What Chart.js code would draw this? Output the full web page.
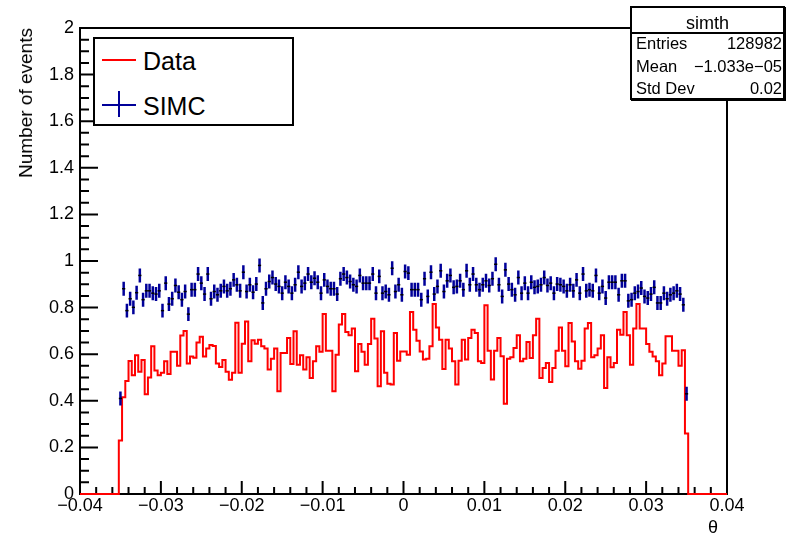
<!DOCTYPE html>
<html lang="en">
<head>
<meta charset="UTF-8">
<title>simth</title>
<script src="https://cdn.jsdelivr.net/npm/chart.js"></script>
<style>
    body { margin: 0; background: #fff; font-family: 'Liberation Sans', Arial, sans-serif; color: #000; }
    #wrap { position: relative; width: 795px; height: 540px; overflow: hidden; }
    #chart { position: absolute; left: 0; top: 0; }
    .box { position: absolute; background: #fff; border: 2px solid #000; box-sizing: border-box; }
    #legend { left: 93px; top: 37px; width: 201px; height: 89px; }
    #stats { left: 630px; top: 6px; width: 155px; height: 94px; box-shadow: 1px 1px 0 #000; }
    .abs { position: absolute; }
    .txt { position: absolute; white-space: nowrap; }
    .lg { font-size: 25px; line-height: 30px; left: 48px; }
    .st { font-size: 16.5px; line-height: 22px; }
    #ytitle { position: absolute; left: 15px; top: 28px; font-size: 19px; line-height: 21px;
              writing-mode: vertical-rl; transform: rotate(180deg); white-space: nowrap; }
    #xtitle { position: absolute; left: 680px; width: 38px; top: 517px; font-size: 18px; line-height: 20px; text-align: right; }
</style>
</head>
<body>
<div id="wrap">
    <canvas id="chart" width="795" height="540"></canvas>
    <div id="ytitle">Number of events</div>
    <div id="xtitle">θ</div>
    <div id="legend" class="box">
        <div class="abs" style="left:7px; top:20px; width:34px; height:2px; background:#ff0000;"></div>
        <div class="txt lg" style="top:7px;">Data</div>
        <div class="abs" style="left:7px; top:65px; width:34px; height:2px; background:#000099;"></div>
        <div class="abs" style="left:23px; top:52px; width:2px; height:26px; background:#000099;"></div>
        <div class="txt lg" style="top:52px;">SIMC</div>
    </div>
    <div id="stats" class="box">
        <div class="txt" style="left:0; width:151px; top:4px; text-align:center; font-size:18px; line-height:22px;">simth</div>
        <div class="abs" style="left:0; top:24px; width:151px; height:2px; background:#000;"></div>
        <div class="txt st" style="left:4px; top:24px;">Entries</div>
        <div class="txt st" style="right:1px; top:24px;">128982</div>
        <div class="txt st" style="left:4px; top:47px;">Mean</div>
        <div class="txt st" style="right:1px; top:47px;">−1.033e−05</div>
        <div class="txt st" style="left:4px; top:69px;">Std Dev</div>
        <div class="txt st" style="right:1px; top:69px;">0.02</div>
    </div>
</div>

<script>
    // histogram binning (200 bins over -0.04..0.04, filled range only)
    const binStart = -0.0352;
    const binWidth = 0.0004;

    // normalised counts per bin
    const dataValues = [
        0.23, 0.415, 0.485, 0.571, 0.51, 0.595, 0.525, 0.575, 0.428, 0.50,
        0.634, 0.53, 0.51, 0.52, 0.57, 0.515, 0.61, 0.61, 0.55, 0.68,
        0.70, 0.56, 0.59, 0.585, 0.65, 0.675, 0.59, 0.625, 0.64, 0.635,
        0.56, 0.545, 0.575, 0.525, 0.49, 0.52, 0.735, 0.52, 0.645, 0.74,
        0.57, 0.66, 0.645,
        0.662, 0.634, 0.624, 0.534, 0.581, 0.624, 0.441, 0.605, 0.605, 0.669,
        0.558, 0.698, 0.555, 0.595, 0.534, 0.587, 0.498, 0.57, 0.634, 0.61,
        0.772, 0.615, 0.615, 0.441, 0.598, 0.727, 0.772, 0.695, 0.681, 0.71,
        0.527, 0.644, 0.61, 0.555, 0.644, 0.752, 0.667, 0.462, 0.698, 0.52,
        0.473, 0.47, 0.691, 0.572, 0.612,
        0.612, 0.598, 0.781, 0.705, 0.658, 0.612, 0.577, 0.581, 0.634, 0.815,
        0.715, 0.662, 0.537, 0.662, 0.624, 0.57, 0.47, 0.572, 0.662, 0.577,
        0.669, 0.705, 0.691, 0.57, 0.562, 0.81, 0.615, 0.491, 0.615, 0.669,
        0.591, 0.387, 0.581, 0.587, 0.627, 0.681, 0.57, 0.581, 0.652, 0.584,
        0.681, 0.752, 0.498, 0.541, 0.562,
        0.481, 0.541, 0.615, 0.715, 0.615, 0.548, 0.734, 0.655, 0.57, 0.538,
        0.572, 0.71, 0.734, 0.587, 0.595, 0.624, 0.681, 0.455, 0.587, 0.544,
        0.562, 0.705, 0.684, 0.781, 0.681, 0.555, 0.71,
        0.815, 0.71, 0.71, 0.644, 0.61, 0.59, 0.57, 0.51, 0.56, 0.677,
        0.677, 0.615, 0.615, 0.55, 0.617, 0.26
    ];

    const simcValues = [
        0.41,
        0.881, 0.787, 0.838, 0.801, 0.864, 0.938, 0.834, 0.872, 0.872, 0.862,
        0.858, 0.872, 0.787, 0.905, 0.815, 0.838, 0.895, 0.866, 0.834, 0.869,
        0.772, 0.877, 0.877, 0.944, 0.905, 0.858, 0.944, 0.838, 0.869, 0.855,
        0.872, 0.891, 0.872, 0.881, 0.919, 0.898, 0.872, 0.952, 0.869, 0.898,
        0.866, 0.901, 0.981,
        0.82, 0.881, 0.912, 0.929, 0.901, 0.891, 0.862, 0.909, 0.891, 0.862,
        0.898, 0.952, 0.891, 0.905, 0.944, 0.909, 0.926, 0.909, 0.862, 0.919,
        0.891, 0.881, 0.881, 0.858, 0.924, 0.944, 0.929, 0.912, 0.898, 0.891,
        0.938, 0.905, 0.905, 0.905, 0.944, 0.862, 0.934, 0.862, 0.869, 0.855,
        0.969, 0.869, 0.898, 0.855, 0.955,
        0.948, 0.877, 0.877, 0.877, 0.834, 0.924, 0.848, 0.952, 0.858, 0.891,
        0.958, 0.869, 0.915, 0.938, 0.887, 0.891, 0.915, 0.877, 0.958, 0.898,
        0.944, 0.898, 0.877, 0.898, 0.915, 0.895, 0.924, 0.986, 0.898, 0.848,
        0.962, 0.901, 0.877, 0.855, 0.929, 0.862, 0.905, 0.862, 0.909, 0.887,
        0.891, 0.898, 0.929, 0.895,
        0.905, 0.862, 0.901, 0.898, 0.891, 0.872, 0.898, 0.872, 0.919, 0.862,
        0.944, 0.872, 0.877, 0.872, 0.938, 0.862, 0.891, 0.841, 0.909, 0.909,
        0.909, 0.855, 0.915, 0.915, 0.829, 0.834, 0.862, 0.869, 0.884, 0.848,
        0.841, 0.858, 0.887, 0.82, 0.82, 0.862, 0.838, 0.855, 0.862, 0.872,
        0.858, 0.812,
        0.43
    ];
    const simcErr = 0.03;

    // axis ranges and tick spacing
    const xMin = -0.04, xMax = 0.04, xMajor = 0.01, xMinor = 0.002;
    const yMin = 0, yMax = 2, yMajor = 0.2, yMinor = 0.05;

    const dataColor = '#ff0000';
    const simcColor = '#000099';
    const font = { family: "'Liberation Sans', Arial, sans-serif", size: 18 };

    // step outline: left edge of every bin, closed down to zero on both sides
    const dataSteps = [{ x: xMin, y: 0 }];
    dataValues.forEach((v, i) => dataSteps.push({ x: binStart + i * binWidth, y: v }));
    dataSteps.push({ x: binStart + dataValues.length * binWidth, y: 0 });
    dataSteps.push({ x: xMax, y: 0 });

    const simcPoints = simcValues.map((v, i) => ({ x: binStart + (i + 0.5) * binWidth, y: v }));

    const rootFrame = {
        id: 'rootFrame',
        beforeDatasetsDraw(chart) {
            const { ctx, chartArea: a, scales: { x, y } } = chart;
            ctx.save();
            ctx.strokeStyle = '#000';
            ctx.lineWidth = 2;
            ctx.strokeRect(a.left, a.top, a.right - a.left, a.bottom - a.top);
            ctx.beginPath();
            const nx = Math.round((xMax - xMin) / xMinor);
            const perX = Math.round(xMajor / xMinor);
            for (let i = 1; i < nx; i++) {
                const px = x.getPixelForValue(xMin + i * xMinor);
                const len = i % perX === 0 ? 13 : 7;
                ctx.moveTo(px, a.bottom);
                ctx.lineTo(px, a.bottom - len);
            }
            const ny = Math.round((yMax - yMin) / yMinor);
            const perY = Math.round(yMajor / yMinor);
            for (let i = 1; i < ny; i++) {
                const py = y.getPixelForValue(yMin + i * yMinor);
                const len = i % perY === 0 ? 18 : 9;
                ctx.moveTo(a.left, py);
                ctx.lineTo(a.left + len, py);
            }
            ctx.stroke();
            ctx.restore();
        },
        beforeDatasetDraw(chart, args) {
            if (args.meta.label !== 'SIMC') return;
            const { ctx, scales: { y } } = chart;
            ctx.save();
            ctx.strokeStyle = simcColor;
            ctx.lineWidth = 2.5;
            ctx.beginPath();
            args.meta.data.forEach((pt, i) => {
                ctx.moveTo(pt.x, y.getPixelForValue(simcValues[i] - simcErr));
                ctx.lineTo(pt.x, y.getPixelForValue(simcValues[i] + simcErr));
            });
            ctx.stroke();
            ctx.restore();
        }
    };

    new Chart(document.getElementById('chart'), {
        type: 'scatter',
        data: {
            datasets: [
                {
                    label: 'Data', data: dataSteps, showLine: true, stepped: true,
                    borderColor: dataColor, borderWidth: 2, pointRadius: 0, fill: false, order: 2, clip: false
                },
                {
                    label: 'SIMC', data: simcPoints, showLine: false,
                    pointStyle: 'line', pointRadius: 1.6, borderColor: '#000', borderWidth: 1.5,
                    backgroundColor: '#000', order: 1
                }
            ]
        },
        options: {
            responsive: false,
            animation: false,
            events: [],
            layout: { padding: { left: 0, top: 28, right: 68, bottom: 0 } },
            plugins: { legend: { display: false }, tooltip: { enabled: false } },
            scales: {
                x: {
                    type: 'linear', min: xMin, max: xMax,
                    grid: { display: false, drawTicks: false },
                    border: { display: false },
                    ticks: {
                        stepSize: xMajor, autoSkip: false, maxRotation: 0, padding: 1,
                        color: '#000', font: font,
                        callback: v => Math.abs(v) < 1e-9 ? '0' : v.toFixed(2).replace('-', '\u2212')
                    },
                    afterFit: s => { s.height = 46; }
                },
                y: {
                    type: 'linear', min: yMin, max: yMax,
                    grid: { display: false, drawTicks: false },
                    border: { display: false },
                    ticks: {
                        stepSize: yMajor, autoSkip: false, padding: 6,
                        color: '#000', font: font,
                        callback: v => String(+v.toFixed(1))
                    },
                    afterFit: s => { s.width = 80; }
                }
            }
        },
        plugins: [rootFrame]
    });
</script>
</body>
</html>
